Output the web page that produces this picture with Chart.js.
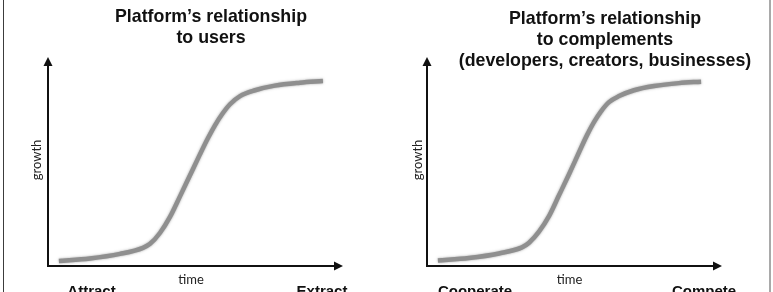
<!DOCTYPE html>
<html>
<head>
<meta charset="utf-8">
<script src="https://cdn.jsdelivr.net/npm/chart.js@4/dist/chart.umd.min.js"></script>
<style>
  html, body { margin: 0; padding: 0; background: #fff; }
  #frame { position: relative; width: 773px; height: 292px; overflow: hidden; background: #fff; }
  #frame canvas { position: absolute; top: 0; }
  #edgeL { position: absolute; left: 3px; top: 0; width: 1px; height: 292px; background: #3c3c3c; }
  #edgeR { position: absolute; left: 769px; top: 0; width: 2px; height: 292px; background: #a9a9a9; }
</style>
</head>
<body>
<div id="frame">
  <canvas id="users" width="386" height="292" style="left:0"></canvas>
  <canvas id="complements" width="387" height="292" style="left:386px"></canvas>
  <div id="edgeL"></div>
  <div id="edgeR"></div>
</div>
<script>
// S-curve of growth over time (both axes on a 0-100 scale)
const usersTime   = [3.7, 14.2, 24.4, 32.2, 34.6, 38.0, 41.4, 44.7, 48.1, 51.5, 54.2, 56.6, 59.0, 61.7, 65.1, 70.2, 76.9, 85.4, 93.2];
const usersGrowth = [2.4, 3.6, 5.8, 8.7, 10.6, 15.9, 23.6, 33.2, 43.3, 53.4, 61.1, 67.3, 72.6, 77.4, 81.3, 84.1, 86.3, 87.7, 88.5];

const complementsTime   = [3.7, 14.2, 24.4, 32.2, 34.6, 37.9, 41.4, 44.7, 48.1, 51.5, 54.2, 56.6, 59.0, 61.7, 65.1, 70.2, 77.0, 85.4, 92.9];
const complementsGrowth = [2.6, 3.8, 6.0, 8.9, 11.1, 16.3, 24.0, 33.7, 43.8, 54.3, 62.5, 68.8, 74.0, 78.4, 81.3, 84.1, 86.1, 87.5, 88.2];

const usersTitle = ['Platform\u2019s relationship', 'to users'];
const complementsTitle = ['Platform\u2019s relationship', 'to complements', '(developers, creators, businesses)'];
const usersStages = ['Attract', 'Extract'];
const complementsStages = ['Cooperate', 'Compete'];
const xAxisLabel = 'time';
const yAxisLabel = 'growth';

function toPoints(xs, ys) {
  return xs.map((x, i) => ({ x: x, y: ys[i] }));
}

// Arrowed axes, panel title, axis captions and stage names
const sketchAxes = {
  id: 'sketchAxes',
  afterDraw(chart, args, o) {
    const ctx = chart.ctx;
    const a = chart.chartArea;
    const x0 = a.left, y0 = a.bottom;
    ctx.save();

    // axes
    ctx.strokeStyle = '#111';
    ctx.fillStyle = '#111';
    ctx.lineWidth = 2;
    ctx.lineCap = 'square';
    ctx.beginPath();
    ctx.moveTo(x0, a.top + 6);
    ctx.lineTo(x0, y0);
    ctx.lineTo(a.right - 6, y0);
    ctx.stroke();
    // arrow heads
    ctx.beginPath();
    ctx.moveTo(x0, a.top);
    ctx.lineTo(x0 - 4.5, a.top + 9);
    ctx.lineTo(x0 + 4.5, a.top + 9);
    ctx.closePath();
    ctx.fill();
    ctx.beginPath();
    ctx.moveTo(a.right, y0);
    ctx.lineTo(a.right - 9, y0 - 4.5);
    ctx.lineTo(a.right - 9, y0 + 4.5);
    ctx.closePath();
    ctx.fill();

    // title
    ctx.fillStyle = '#111';
    ctx.textAlign = 'center';
    ctx.textBaseline = 'alphabetic';
    ctx.font = 'bold 17.8px "Liberation Sans", Arial, sans-serif';
    o.title.forEach((line, i) => {
      ctx.fillText(line, x0 + o.titleOffset, o.titleBaseline + i * 21);
    });

    // axis captions
    ctx.fillStyle = '#222';
    ctx.font = '13px Lato, "Open Sans", sans-serif';
    ctx.fillText(xAxisLabel, x0 + o.timeOffset, 284);
    ctx.save();
    ctx.translate(x0 + o.growthOffset, 160);
    ctx.rotate(-Math.PI / 2);
    ctx.textBaseline = 'middle';
    ctx.fillText(yAxisLabel, 0, 0);
    ctx.restore();

    // stage names under the time axis
    ctx.fillStyle = '#111';
    ctx.font = 'bold 15px "Liberation Sans", Arial, sans-serif';
    ctx.fillText(o.stages[0], x0 + o.stageOffsets[0], 296);
    ctx.fillText(o.stages[1], x0 + o.stageOffsets[1], 296);
    ctx.restore();
  }
};

// soft edge on the curve
const softLine = {
  id: 'softLine',
  beforeDatasetsDraw(chart) {
    const ctx = chart.ctx;
    ctx.save();
    ctx.shadowColor = 'rgba(90,90,90,0.55)';
    ctx.shadowBlur = 2.5;
  },
  afterDatasetsDraw(chart) {
    chart.ctx.restore();
  }
};

function makeChart(id, xs, ys, pad, axesOpts) {
  return new Chart(document.getElementById(id), {
    type: 'line',
    data: {
      datasets: [{
        data: toPoints(xs, ys),
        borderColor: '#8f8f8f',
        borderWidth: 4.5,
        borderCapStyle: 'butt',
        pointRadius: 0,
        fill: false,
        cubicInterpolationMode: 'monotone'
      }]
    },
    options: {
      responsive: false,
      animation: false,
      devicePixelRatio: 1,
      layout: { padding: pad },
      scales: {
        x: { type: 'linear', min: 0, max: 100, display: false },
        y: { type: 'linear', min: 0, max: 100, display: false }
      },
      plugins: {
        legend: { display: false },
        tooltip: { enabled: false },
        title: { display: false },
        sketchAxes: axesOpts
      }
    },
    plugins: [softLine, sketchAxes]
  });
}

makeChart('users', usersTime, usersGrowth,
  { left: 48, right: 43, top: 57, bottom: 26 },
  { title: usersTitle, titleOffset: 163, titleBaseline: 22,
    timeOffset: 143, growthOffset: -11.5,
    stages: usersStages, stageOffsets: [43.5, 274] });

makeChart('complements', complementsTime, complementsGrowth,
  { left: 41, right: 51, top: 57, bottom: 26 },
  { title: complementsTitle, titleOffset: 178, titleBaseline: 24,
    timeOffset: 142.5, growthOffset: -9,
    stages: complementsStages, stageOffsets: [48, 277] });
</script>
</body>
</html>
